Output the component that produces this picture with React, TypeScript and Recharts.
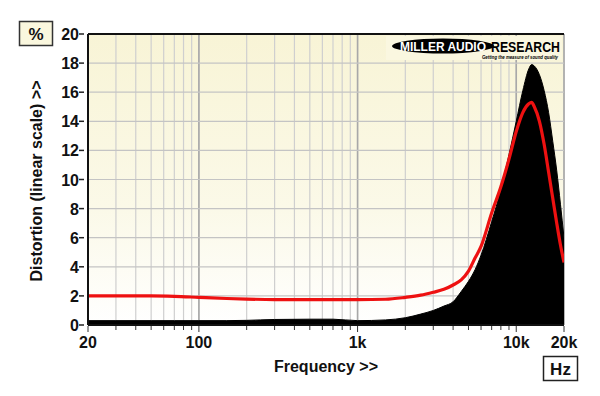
import React from "react"
import { Area, CartesianGrid, ComposedChart, Line, ReferenceLine, XAxis, YAxis } from "recharts"

// frequency points (Hz)
const FREQ = [
  20, 30, 50, 70, 100, 150, 200, 300, 500, 700, 1000, 1500, 2000, 2500, 3000, 3500, 4000, 4500, 5000,
  5500, 6000, 7000, 8000, 9000, 10000, 11000, 12000, 12500, 13000, 14000, 15000, 16000, 17000, 18000,
  19000, 20000,
]
// black filled trace (%)
const THD_BLACK = [
  0.3, 0.3, 0.3, 0.3, 0.3, 0.3, 0.32, 0.38, 0.4, 0.4, 0.3, 0.35, 0.5, 0.75, 1.0, 1.3, 1.6, 2.3, 3.0,
  3.8, 4.8, 7.1, 9.3, 11.7, 14.0, 16.1, 17.6, 17.9, 17.8, 17.2, 16.1, 14.6, 12.6, 10.6, 8.3, 6.0,
]
// red trace (%)
const THD_RED = [
  2.0, 2.0, 2.0, 1.97, 1.9, 1.82, 1.78, 1.75, 1.75, 1.75, 1.75, 1.77, 1.9, 2.05, 2.25, 2.45, 2.75, 3.1,
  3.7, 4.6, 5.4, 7.7, 9.5, 11.4, 13.3, 14.6, 15.2, 15.3, 15.0, 14.0, 12.4, 10.5, 8.7, 7.0, 5.5, 4.3,
]

const Y_TICKS = [0, 2, 4, 6, 8, 10, 12, 14, 16, 18, 20]
const X_MAJOR: Record<number, string> = { 20: "20", 100: "100", 1000: "1k", 10000: "10k", 20000: "20k" }
const X_MINOR = [30, 40, 50, 60, 70, 80, 90, 200, 300, 400, 500, 600, 700, 800, 900, 2000, 3000, 4000, 5000, 6000, 7000, 8000, 9000]
const X_MAJOR_GRID = [100, 1000, 10000, 20000]
const X_TICKS = [20, ...X_MINOR, ...X_MAJOR_GRID].sort((a, b) => a - b)

const data = FREQ.map((f, i) => ({ f, black: THD_BLACK[i], red: THD_RED[i] }))

const FONT = '"Liberation Sans", Arial, sans-serif'
const txt = { fontFamily: FONT, fontWeight: 700, fontSize: 16, fill: "#111" }

function YTick({ x, y, payload }: any) {
  return (
    <g>
      <text x={x - 9} y={y + 6} textAnchor="end" {...txt}>
        {payload.value}
      </text>
      <line x1={x - 9} x2={x - 4} y1={y} y2={y} stroke="#222" strokeWidth={1.5} />
    </g>
  )
}

function XTick({ x, y, payload }: any) {
  const lab = X_MAJOR[payload.value]
  return (
    <g>
      <line x1={x} x2={x} y1={y + 1} y2={y + (lab ? 7 : 5)} stroke="#333" strokeWidth={1} />
      {lab && (
        <text x={x} y={y + 23} textAnchor="middle" {...txt}>
          {lab}
        </text>
      )}
    </g>
  )
}

export default function App() {
  return (
    <div style={{ position: "absolute", left: 0, top: 0, width: 600, height: 396, background: "#fff" }}>
      <ComposedChart width={600} height={396} data={data} margin={{ top: 34, right: 36, bottom: 0, left: 0 }}>
        <defs>
          <linearGradient id="bg" x1="0" y1="0" x2="0" y2="1">
            <stop offset="0%" stopColor="#f8f4d6" />
            <stop offset="60%" stopColor="#fbf9e8" />
            <stop offset="100%" stopColor="#ffffff" />
          </linearGradient>
        </defs>
        <CartesianGrid fill="url(#bg)" fillOpacity={1} horizontal={false} stroke="#cfcfcf" strokeWidth={1.2} />
        <CartesianGrid xAxisId="maj" horizontal={false} stroke="#a8a8a8" strokeWidth={1.6} />
        <CartesianGrid vertical={false} stroke="#c4c4c4" strokeWidth={1.2} />
        <XAxis
          dataKey="f"
          type="number"
          scale="log"
          domain={[20, 20000]}
          ticks={X_TICKS}
          interval={0}
          height={71}
          tickSize={0}
          tickMargin={0}
          tickLine={false}
          axisLine={{ stroke: "#111", strokeWidth: 2 }}
          tick={<XTick />}
          allowDataOverflow
        />
        <XAxis
          xAxisId="maj"
          dataKey="f"
          type="number"
          scale="log"
          domain={[20, 20000]}
          ticks={X_MAJOR_GRID}
          interval={0}
          height={0}
          hide
          allowDataOverflow
        />
        <YAxis
          type="number"
          domain={[0, 20]}
          ticks={Y_TICKS}
          interval={0}
          width={88}
          tickSize={0}
          tickMargin={0}
          tickLine={false}
          axisLine={{ stroke: "#111", strokeWidth: 2 }}
          tick={<YTick />}
        />
        <Area
          type="monotone"
          dataKey="black"
          stroke="#000"
          strokeWidth={1}
          fill="#000"
          fillOpacity={1}
          isAnimationActive={false}
          dot={false}
          activeDot={false}
        />
        <Line
          type="monotone"
          dataKey="red"
          stroke="#ee1111"
          strokeWidth={3.2}
          dot={false}
          activeDot={false}
          isAnimationActive={false}
        />
        <ReferenceLine y={20} stroke="#111" strokeWidth={2} />
      </ComposedChart>
      <svg width={600} height={396} style={{ position: "absolute", left: 0, top: 0, pointerEvents: "none" }}>
        <rect x={19.5} y={21.5} width={33} height={24} fill="#faf7de" stroke="#333" strokeWidth={1.5} />
        <text x={36} y={39.5} textAnchor="middle" {...txt} fontSize={17}>
          %
        </text>
        <rect x={543.5} y={356.5} width={34} height={24} fill="#fff" stroke="#222" strokeWidth={1.5} />
        <text x={560.5} y={374.5} textAnchor="middle" {...txt} fontSize={17}>
          Hz
        </text>
        <text x={326} y={372} textAnchor="middle" {...txt}>
          Frequency &gt;&gt;
        </text>
        <text x={42} y={181} textAnchor="middle" transform="rotate(-90 42 181)" {...txt}>
          Distortion (linear scale) &gt;&gt;
        </text>
        {/* logo */}
        <rect x={386} y={36} width={176} height={24} fill="#faf7e0" />
        <ellipse cx={443} cy={46} rx={51} ry={7.5} fill="#000" />
        <text x={400} y={51} fontFamily={FONT} fontWeight={900} fontSize={13} fill="#fff" textLength={86} lengthAdjust="spacingAndGlyphs">
          MILLER AUDIO
        </text>
        <text x={491} y={52} fontFamily={FONT} fontWeight={900} fontSize={15} fill="#000" textLength={69} lengthAdjust="spacingAndGlyphs">
          RESEARCH
        </text>
        <text x={482} y={58.5} fontFamily={FONT} fontWeight={700} fontStyle="italic" fontSize={5.5} fill="#000" textLength={76} lengthAdjust="spacingAndGlyphs">
          Getting the measure of sound quality
        </text>
      </svg>
    </div>
  )
}
